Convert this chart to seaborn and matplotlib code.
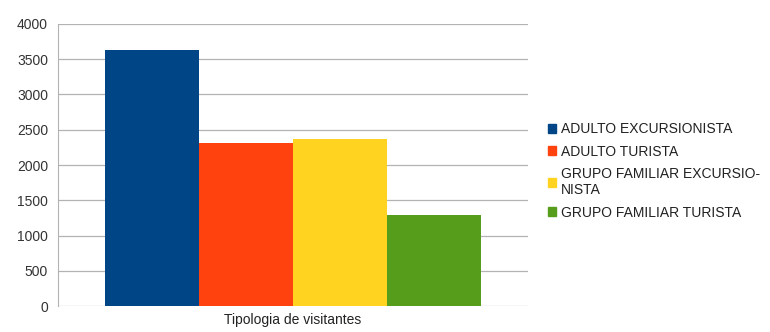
import pandas as pd
import matplotlib
matplotlib.use("Agg")
import matplotlib.pyplot as plt
import seaborn as sns

# data
category = ["Tipologia de visitantes"]
series = ["ADULTO EXCURSIONISTA", "ADULTO TURISTA",
          "GRUPO FAMILIAR EXCURSIONISTA", "GRUPO FAMILIAR TURISTA"]
legend_labels = ["ADULTO EXCURSIONISTA", "ADULTO TURISTA",
                 "GRUPO FAMILIAR EXCURSIO-\nNISTA", "GRUPO FAMILIAR TURISTA"]
values = [3630, 2315, 2365, 1295]
colors = ["#004586", "#ff420e", "#ffd320", "#579d1c"]

df = pd.DataFrame({"tipo": category * len(series), "serie": series, "valor": values})

sns.set_style("white")
plt.rcParams["font.family"] = ["Liberation Sans", "DejaVu Sans"]

fig = plt.figure(figsize=(7.7, 3.32), dpi=100)
ax = fig.add_axes([0.075, 0.078, 0.611, 0.85])

sns.barplot(data=df, x="tipo", y="valor", hue="serie", palette=colors,
            hue_order=series, width=0.8, saturation=1, linewidth=0,
            ax=ax, legend=False)

ax.set_ylim(0, 4000)
ax.set_yticks(range(0, 4001, 500))
ax.yaxis.grid(True, color="#b3b3b3", linewidth=0.9)
ax.set_axisbelow(True)
for s in ["top", "right", "bottom"]:
    ax.spines[s].set_visible(False)
ax.spines["left"].set_color("#b3b3b3")
ax.tick_params(axis="y", length=5, color="#b3b3b3", labelsize=10, labelcolor="#333333", pad=2)
ax.tick_params(axis="x", length=0, labelsize=10, labelcolor="#222222", pad=5)
ax.set_xlabel("")
ax.set_ylabel("")

handles = [plt.Rectangle((0, 0), 1, 1, color=c) for c in colors]
fig.legend(handles, legend_labels, loc="center left", bbox_to_anchor=(0.695, 0.485),
           frameon=False, fontsize=10, handlelength=0.6, handleheight=0.6,
           handletextpad=0.35, labelspacing=0.6, labelcolor="#222222")

fig.savefig("out.png", dpi=100)
